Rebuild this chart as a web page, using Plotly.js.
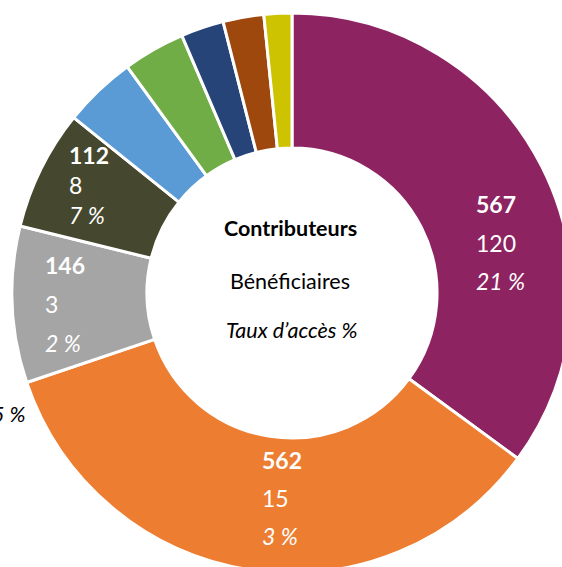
<!DOCTYPE html>
<html>
<head>
<meta charset="utf-8">
<script src="https://cdn.plot.ly/plotly-3.0.1.min.js"></script>
<style>
html, body { margin: 0; padding: 0; overflow: hidden; background: #fff; width: 562px; height: 567px; }
#chart { position: absolute; left: 0; top: 0; width: 600px; height: 600px; }
</style>
</head>
<body>
<div id="chart"></div>
<script>
// ---- data ----
const categories = ["A", "B", "C", "D", "E", "F", "G", "H", "I"];
const contributeurs = [567, 562, 146, 112, 68, 58, 40, 38, 26];
const beneficiaires = [120, 15, 3, 8, null, null, null, null, null];
const tauxAcces = ["21 %", "3 %", "2 %", "7 %", null, null, null, null, null];
const colors = ["#8E2361", "#ED7D31", "#A5A5A5", "#45482E", "#5B9BD5", "#70AD47", "#264478", "#9E480E", "#CDC300"];
const centerLines = ["Contributeurs", "Bénéficiaires", "Taux d’accès %"];
const cutLabel = "5 %";

// ---- layout helpers (pixel -> paper) ----
const W = 600, H = 600, ML = 12, MT = 13, MR = 28, MB = 27;
const PW = W - ML - MR, PH = H - MT - MB;
const px = x => (x - ML) / PW;
const py = y => (H - MB - y) / PH;

const FONT = "Lato, 'Open Sans', sans-serif";
const annotations = [];
function ann(text, x, y, opts) {
  annotations.push(Object.assign({
    text: text, x: px(x), y: py(y), xref: "paper", yref: "paper",
    showarrow: false, xanchor: "left", yanchor: "middle",
    font: { family: FONT, size: 23, color: "#ffffff" }
  }, opts || {}));
}

// label anchor positions (left x, line centres) for the labelled slices
const labelPos = [
  { x: 474, ys: [204, 243, 281] },
  { x: 260, ys: [460, 498, 536] },
  { x: 43, ys: [265, 304, 343] },
  { x: 67, ys: [155, 185, 215] }
];
labelPos.forEach((p, i) => {
  ann("<b>" + contributeurs[i] + "</b>", p.x, p.ys[0]);
  ann(String(beneficiaires[i]), p.x, p.ys[1]);
  ann("<i>" + tauxAcces[i] + "</i>", p.x, p.ys[2]);
});

// centre legend text
const cfont = { family: FONT, size: 21.5, color: "#000" };
ann("<b>" + centerLines[0] + "</b>", 290, 228, { xanchor: "center", font: cfont });
ann(centerLines[1], 290, 281, { xanchor: "center", font: cfont });
ann("<i>" + centerLines[2] + "</i>", 292, 330, { xanchor: "center", font: cfont });
// partially cut outside label (as in the reference, it runs off the left edge)
ann("<i>" + cutLabel + "</i>", 28, 414, { xanchor: "right", font: cfont });

const trace = {
  type: "pie",
  labels: categories,
  values: contributeurs,
  sort: false,
  direction: "clockwise",
  rotation: 0,
  hole: 0.518,
  textinfo: "none",
  hoverinfo: "skip",
  marker: { colors: colors, line: { color: "#ffffff", width: 3 } },
  showlegend: false
};

const layout = {
  width: W, height: H,
  margin: { l: ML, r: MR, t: MT, b: MB, pad: 0 },
  paper_bgcolor: "#ffffff",
  plot_bgcolor: "#ffffff",
  showlegend: false,
  annotations: annotations
};

Plotly.newPlot("chart", [trace], layout, { staticPlot: true, displayModeBar: false });
</script>
</body>
</html>
